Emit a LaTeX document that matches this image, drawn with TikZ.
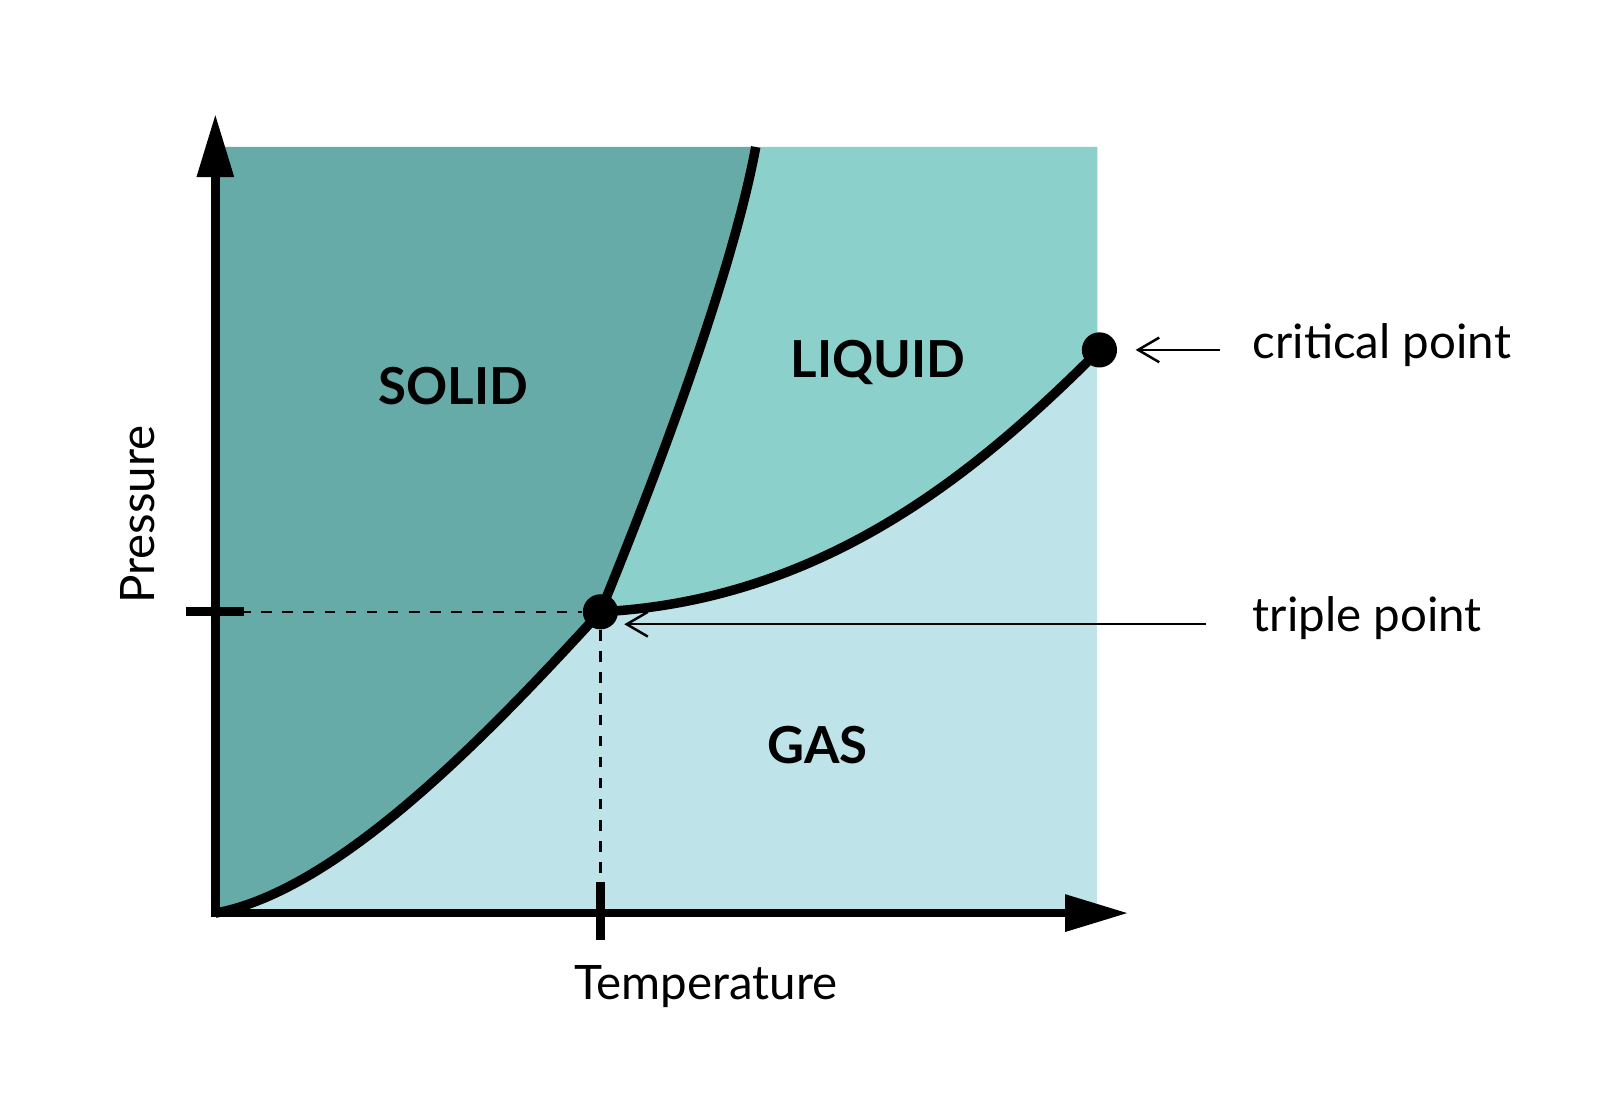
\documentclass[tikz,border=0pt]{standalone}
\usepackage{fontspec}
\setmainfont{Lato}
\usetikzlibrary{arrows.meta,positioning}
\definecolor{solidc}{HTML}{66ABA8}
\definecolor{liquidc}{HTML}{8CD0CB}
\definecolor{gasc}{HTML}{BEE4EA}
\tikzset{
  phase/.style={font=\fontsize{14.5}{16}\selectfont\bfseries},
  lbl/.style={font=\fontsize{13.5}{15}\selectfont},
  curve/.style={line width=2.7pt},
  axis/.style={line width=2.5pt, -{Triangle[length=18pt,width=10pt]}},
  dot/.style={circle, fill=black, inner sep=0pt, minimum size=10pt},
  guide/.style={dashed, line width=0.7pt},
  pointer/.style={line width=0.7pt, -{Straight Barb[length=6pt,width=7pt]}}
}
\begin{document}
\begin{tikzpicture}[x=0.01035cm,y=-0.01035cm]
        \useasboundingbox (0,0) rectangle (1560,1056);
        % regions
        \fill[gasc] (208,142) rectangle (1060,882);
        \fill[liquidc] (580,591) .. controls (650,420) and (710,250) .. (730,142) -- (1060,142) -- (1060,338) .. controls (950,450) and (800,580) .. (580,591) -- cycle;
        \fill[solidc] (208,142) -- (730,142) .. controls (710,250) and (650,420) .. (580,591) .. controls (480,700) and (330,860) .. (208,882) -- cycle;

        \coordinate (O) at (208,882);
        \coordinate (top) at (730,142);
        \node[dot] (tp) at (580,591) {};
        \node[dot] (cp) at (1062,338) {};

        % guides
        \coordinate (py) at (232,591);
        \coordinate (tx) at (580,862);
        \draw[guide] (py) -- (tp);
        \draw[guide] (tp) -- (tx);

        % phase boundaries
        \draw[curve] (O) .. controls (330,860) and (480,700) .. (tp.center);
        \draw[curve] (tp.center) .. controls (650,420) and (710,250) .. (top);
        \draw[curve] (tp.center) .. controls (800,580) and (950,450) .. (cp.center);

        % axes
        \draw[axis] (208,886) -- (208,110);
        \draw[axis] (204,882) -- (1090,882);
        \draw[line width=2.5pt] (180,591) -- (236,591);
        \draw[line width=2.5pt] (580,852) -- (580,908);

        % labels
        \node[phase] (solid) at (438,373) {SOLID};
        \node[phase] (liquid) at (848,350) {LIQUID};
        \node[phase] (gas) at (790,720) {GAS};
        \node[lbl, rotate=90] (pres) at (133,497) {Pressure};
        \node[lbl] (temp) at (682,953) {Temperature};
        \node[lbl, anchor=west] (cpl) at (1198,333) {critical point};
        \node[lbl, anchor=west] (tpl) at (1198,597) {triple point};
        \coordinate (cpa) at (1178,338);
        \coordinate (cpb) at (1097,338);
        \coordinate (tpa) at (1165,603);
        \coordinate (tpb) at (603,603);
        \draw[pointer] (cpa) -- (cpb);
        \draw[pointer] (tpa) -- (tpb);
\end{tikzpicture}
\end{document}
